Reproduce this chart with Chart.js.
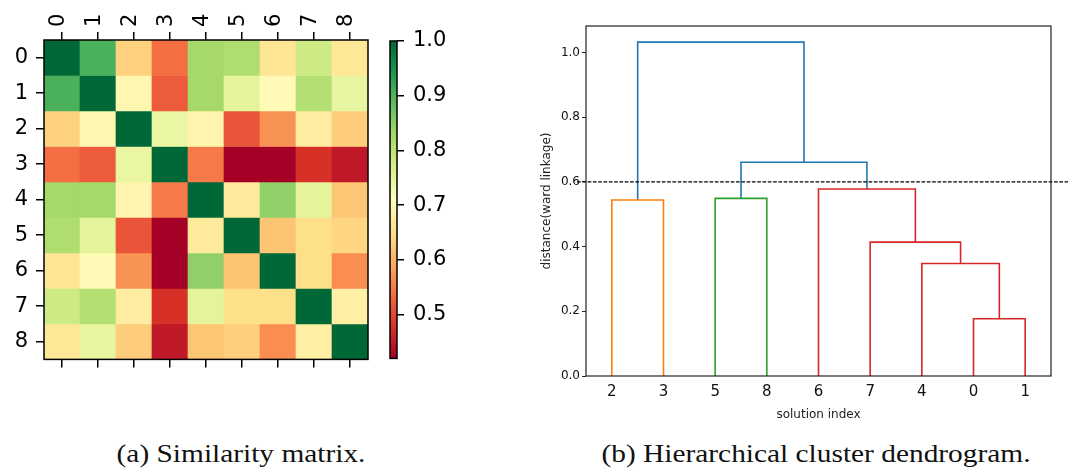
<!DOCTYPE html>
<html><head><meta charset="utf-8">
<script src="https://cdn.jsdelivr.net/npm/chart.js@4.4.1/dist/chart.umd.min.js"></script>
<style>
html,body{margin:0;padding:0;background:#fff;width:1068px;height:470px;overflow:hidden;position:relative}
canvas{position:absolute}
.cap{position:absolute;font-family:'Liberation Serif',serif;font-size:26px;line-height:30px;color:#111;white-space:nowrap;transform:translateX(-50%) scaleX(1.13);}
</style></head><body>
<canvas id="hm" width="372" height="380" style="left:0;top:0"></canvas>
<canvas id="cb" width="80" height="380" style="left:380px;top:0"></canvas>
<canvas id="dg" width="528" height="430" style="left:540px;top:0"></canvas>
<div class="cap" style="left:241px;top:439px">(a) Similarity matrix.</div>
<div class="cap" style="left:816px;top:439px">(b) Hierarchical cluster dendrogram.</div>
<script>
// ---- data ----
const solutionLabels = ['0','1','2','3','4','5','6','7','8'];
const simRows = [
  [1.00, 0.905, 0.635, 0.536, 0.826, 0.815, 0.664, 0.780, 0.665],
  [0.905, 1.00, 0.693, 0.519, 0.826, 0.750, 0.700, 0.810, 0.745],
  [0.635, 0.693, 1.00, 0.742, 0.690, 0.513, 0.570, 0.675, 0.630],
  [0.536, 0.519, 0.742, 1.00, 0.548, 0.420, 0.420, 0.478, 0.450],
  [0.826, 0.826, 0.690, 0.548, 1.00, 0.670, 0.845, 0.750, 0.622],
  [0.815, 0.750, 0.513, 0.420, 0.670, 1.00, 0.620, 0.652, 0.640],
  [0.664, 0.700, 0.570, 0.420, 0.845, 0.620, 1.00, 0.652, 0.565],
  [0.780, 0.810, 0.675, 0.478, 0.750, 0.652, 0.652, 1.00, 0.681],
  [0.665, 0.745, 0.630, 0.450, 0.622, 0.633, 0.565, 0.681, 1.00]
];
const colorbarTicks = [0.5, 0.6, 0.7, 0.8, 0.9, 1.0];
const colorMin = 0.42, colorMax = 1.0;
const rdylgn = ['#a50026','#d73027','#f46d43','#fdae61','#fee08b','#ffffbf','#d9ef8b','#a6d96a','#66bd63','#1a9850','#006837'];

const leafLabels = ['2','3','5','8','6','7','4','0','1'];
const leafPositions = [5,15,25,35,45,55,65,75,85];
const linkX = [
  [5,5,15,15],[25,25,35,35],[75,75,85,85],[65,65,80,80],
  [55,55,72.5,72.5],[45,45,63.75,63.75],[30,30,54.375,54.375],[10,10,42.1875,42.1875]
];
const linkY = [
  [0,0.544,0.544,0],[0,0.549,0.549,0],[0,0.177,0.177,0],[0,0.348,0.348,0.177],
  [0,0.414,0.414,0.348],[0,0.578,0.578,0.414],[0.549,0.661,0.661,0.578],[0.544,1.032,1.032,0.661]
];
const linkColors = ['#ff7f0e','#2ca02c','#d62728','#d62728','#d62728','#d62728','#1f77b4','#1f77b4'];
const distanceTicks = [0,0.2,0.4,0.6,0.8,1.0];
const cutHeight = 0.6;

// ---- helpers ----
function hex(c){return [1,3,5].map(i=>parseInt(c.slice(i,i+2),16));}
function cmap(v){
  let t=(v-colorMin)/(colorMax-colorMin); t=Math.max(0,Math.min(1,t));
  const p=t*10, i=Math.min(9,Math.floor(p)), f=p-i;
  const a=hex(rdylgn[i]), b=hex(rdylgn[i+1]);
  return 'rgb('+a.map((x,k)=>Math.round(x+(b[k]-x)*f)).join(',')+')';
}
const frame = {id:'frame', afterDraw(chart, args, opts){
  const {ctx, chartArea:a} = chart; ctx.save();
  ctx.strokeStyle = opts.color || '#000'; ctx.lineWidth = opts.width || 1;
  ctx.strokeRect(a.left, a.top, a.right-a.left, a.bottom-a.top); ctx.restore();
}};
const cutLine = {id:'cutLine', afterDatasetsDraw(chart){
  const {ctx} = chart; const y = chart.scales.y.getPixelForValue(cutHeight);
  ctx.save(); ctx.setLineDash([3.7,1.6]); ctx.strokeStyle='#000'; ctx.lineWidth=1.1;
  ctx.beginPath(); ctx.moveTo(chart.chartArea.left-9, y); ctx.lineTo(chart.width, y); ctx.stroke(); ctx.restore();
}};
const bigFont = {family:'DejaVu Sans', size:21};
const common = {responsive:false, animation:false, devicePixelRatio:1};

// ---- heatmap ----
new Chart(document.getElementById('hm'), {
  type:'bar',
  data:{labels:solutionLabels, datasets: simRows.map((row,i)=>({
    data: row.map(()=>[i-0.5, i+0.5]), backgroundColor: row.map(cmap),
    borderWidth:0, barPercentage:1, categoryPercentage:1, grouped:false, xAxisID:'x', yAxisID:'y'}))},
  options:{...common, layout:{padding:{right:4}},
    plugins:{legend:{display:false}, tooltip:{enabled:false}, frame:{width:1.5}},
    scales:{
      x:{type:'category', position:'top', offset:true,
        grid:{offset:false, drawOnChartArea:false, tickLength:8, color:'#000', lineWidth:1.5}, border:{display:false},
        ticks:{font:bigFont, color:'#000', maxRotation:90, minRotation:90, padding:5, autoSkip:false, labelOffset:22},
        afterFit(s){s.height=40;}},
      x2:{type:'category', labels:solutionLabels, position:'bottom', offset:true,
        grid:{offset:false, drawOnChartArea:false, tickLength:8, color:'#000', lineWidth:1.5}, border:{display:false},
        ticks:{callback:()=>'', autoSkip:false, padding:0},
        afterFit(s){s.height=16;}},
      y:{type:'linear', reverse:true, min:-0.5, max:8.5,
        grid:{drawOnChartArea:false, tickLength:8, color:'#000', lineWidth:1.5}, border:{display:false},
        afterBuildTicks(s){s.ticks=solutionLabels.map((_,i)=>({value:i}));},
        ticks:{callback:(v,i)=>solutionLabels[i], font:bigFont, color:'#000', padding:8},
        afterFit(s){s.width=44;}}
    }},
  plugins:[frame]
});

// ---- colorbar ----
new Chart(document.getElementById('cb'), {
  type:'bar',
  data:{labels:[''], datasets:[{data:[[colorMin,colorMax]],
    backgroundColor:(c)=>{const ch=c.chart; if(!ch.chartArea) return '#ccc'; const y=ch.scales.y;
      const g=ch.ctx.createLinearGradient(0,y.getPixelForValue(colorMin),0,y.getPixelForValue(colorMax));
      rdylgn.forEach((col,i)=>g.addColorStop(i/10,col)); return g;},
    borderWidth:0, barPercentage:1, categoryPercentage:1}]},
  options:{...common, layout:{padding:{left:10, top:41, bottom:15}},
    plugins:{legend:{display:false}, tooltip:{enabled:false}, frame:{width:1.5}},
    scales:{
      x:{display:false},
      y:{position:'right', min:colorMin, max:colorMax,
        grid:{drawOnChartArea:false, tickLength:7, color:'#000', lineWidth:1.5}, border:{display:false},
        afterBuildTicks(s){s.ticks=colorbarTicks.map(v=>({value:v}));},
        ticks:{callback:(v)=>Number(v).toFixed(1), font:bigFont, color:'#000', padding:9},
        afterFit(s){s.width=63;}}
    }},
  plugins:[frame]
});

// ---- dendrogram ----
new Chart(document.getElementById('dg'), {
  type:'scatter',
  data:{datasets: linkX.map((xs,k)=>({
    data: xs.map((x,j)=>({x:x, y:linkY[k][j]})), showLine:true, borderColor:linkColors[k],
    borderWidth:1.6, pointRadius:0, fill:false, tension:0, clip:false}))},
  options:{...common, layout:{padding:{top:26, right:17}},
    plugins:{legend:{display:false}, tooltip:{enabled:false}, frame:{width:1.2, color:'#222'}},
    scales:{
      x:{type:'linear', min:0, max:90, grid:{display:false, drawTicks:false}, border:{display:false},
        afterBuildTicks(s){s.ticks=leafPositions.map(v=>({value:v}));},
        ticks:{callback:(v,i)=>leafLabels[i], font:{family:'DejaVu Sans', size:15}, color:'#111', padding:7, autoSkip:false, maxRotation:0},
        title:{display:true, text:'solution index', font:{family:'DejaVu Sans', size:12}, color:'#222', padding:{top:0, bottom:8}},
        afterFit(s){s.height=54;}},
      y:{min:0, max:1.082, grid:{drawOnChartArea:false, tickLength:4, color:'#222'}, border:{display:false},
        afterBuildTicks(s){s.ticks=distanceTicks.map(v=>({value:v}));},
        ticks:{callback:(v)=>Number(v).toFixed(1), font:{family:'DejaVu Sans', size:12}, color:'#111', padding:2},
        title:{display:true, text:'distance(ward linkage)', font:{family:'DejaVu Sans', size:12}, color:'#222', padding:0},
        afterFit(s){s.width=46;}}
    }},
  plugins:[frame, cutLine]
});
</script>
</body></html>
